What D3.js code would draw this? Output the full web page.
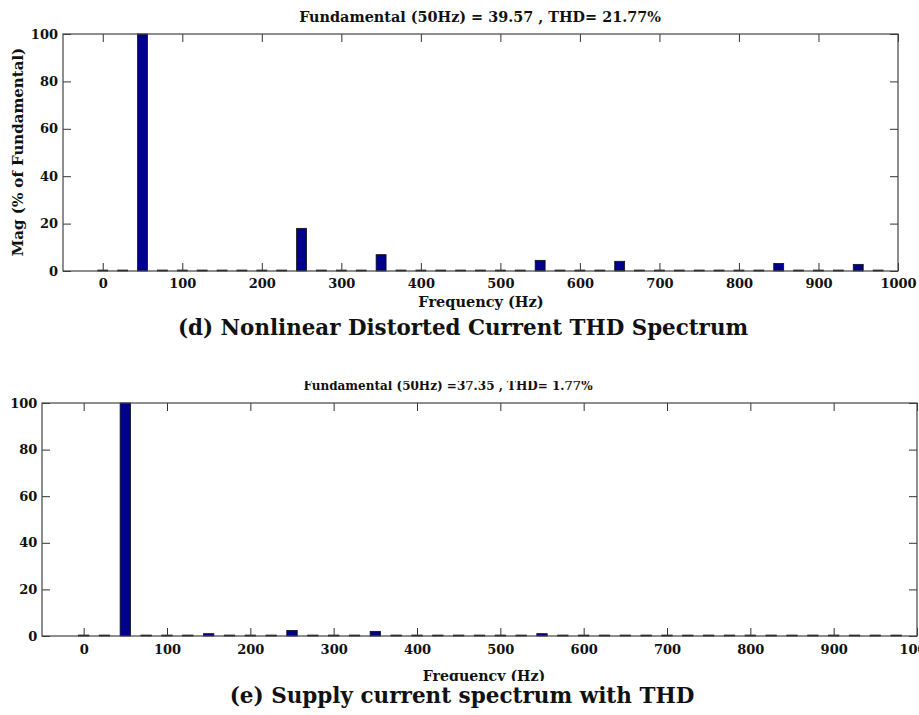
<!DOCTYPE html>
<html>
<head>
<meta charset="utf-8">
<script src="https://cdn.jsdelivr.net/npm/d3@7"></script>
<style>
  body { margin: 0; background: #fff; }
  svg { display: block; font-family: "DejaVu Serif", serif; font-weight: bold; }
</style>
</head>
<body>
<div id="chart-area"></div>
<script>
// harmonic frequencies (Hz), one bar each
const freqs = [0, 25, 50, 75, 100, 125, 150, 175, 200, 225,
	250, 275, 300, 325, 350, 375, 400, 425, 450, 475,
	500, 525, 550, 575, 600, 625, 650, 675, 700, 725,
	750, 775, 800, 825, 850, 875, 900, 925, 950, 975];

// (d) nonlinear distorted current, % of fundamental
const loadMag = [0.4, 0.4, 100, 0.4, 0.4, 0.4, 0.4, 0.4, 0.4, 0.4,
	18.0, 0.4, 0.4, 0.4, 6.9, 0.4, 0.4, 0.4, 0.4, 0.4,
	0.4, 0.4, 4.5, 0.4, 0.4, 0.4, 4.1, 0.4, 0.4, 0.4,
	0.4, 0.4, 0.4, 0.4, 3.2, 0.4, 0.4, 0.4, 2.8, 0.4];

// (e) supply current, % of fundamental
const supplyMag = [0.4, 0.4, 100, 0.4, 0.4, 0.4, 1.0, 0.4, 0.4, 0.4,
	2.4, 0.4, 0.4, 0.4, 2.0, 0.4, 0.4, 0.4, 0.4, 0.4,
	0.4, 0.4, 1.0, 0.4, 0.4, 0.4, 0.4, 0.4, 0.4, 0.4,
	0.4, 0.4, 0.4, 0.4, 0.4, 0.4, 0.4, 0.4, 0.4, 0.4];

const xTicks = [0, 100, 200, 300, 400, 500, 600, 700, 800, 900, 1000];
const yTicks = [0, 20, 40, 60, 80, 100];
const freqDomain = [-50, 1000];
const magDomain = [0, 100];

const svg = d3.select('#chart-area')
	.append('svg')
		.attr('width', 919)
		.attr('height', 715);

// clip for the cut-off texts of panel (e)
const defs = svg.append('defs');
defs.append('clipPath').attr('id', 'clip-e')
	.append('rect')
		.attr('x', 0).attr('y', 381)
		.attr('width', 919).attr('height', 300);

function drawSpectrum(opt) {
	const m = opt.box;
	const w = m.right - m.left;
	const h = m.bottom - m.top;

	const g = svg.append('g')
		.attr('transform', `translate(${m.left},${m.top})`);

	const xScale = d3.scaleLinear().domain(freqDomain).range([0, w]);
	const yScale = d3.scaleLinear().domain(magDomain).range([h, 0]);
	const barW = xScale(12.5) - xScale(0);

	// bars
	g.selectAll('rect.bar')
		.data(opt.values.map((v, i) => ({ f: freqs[i], v: v })))
		.enter().append('rect')
			.attr('class', 'bar')
			.attr('x', d => xScale(d.f) - barW / 2)
			.attr('y', d => yScale(d.v))
			.attr('width', barW)
			.attr('height', d => h - yScale(d.v))
			.attr('fill', '#00008b')
			.attr('stroke', '#111')
			.attr('stroke-width', 0.8);

	// axes, ticks pointing inward
	const styleAxis = sel => {
		sel.select('.domain').remove();
		sel.selectAll('line').attr('stroke', '#333');
		sel.selectAll('text')
			.attr('fill', '#111')
			.attr('font-family', '"DejaVu Serif", serif')
			.attr('font-weight', 'bold')
			.attr('font-size', 13);
	};

	g.append('g')
		.attr('transform', `translate(0,${h})`)
		.call(d3.axisBottom(xScale).tickValues(xTicks).tickFormat(d3.format('d'))
			.tickSizeInner(-8).tickSizeOuter(0).tickPadding(opt.xPad))
		.call(styleAxis);
	g.append('g')
		.call(d3.axisTop(xScale).tickValues(xTicks).tickSizeInner(-8).tickSizeOuter(0).tickFormat(''))
		.call(styleAxis);
	g.append('g')
		.call(d3.axisLeft(yScale).tickValues(yTicks).tickSizeInner(-8).tickSizeOuter(0).tickPadding(opt.yPad))
		.call(styleAxis);
	g.append('g')
		.attr('transform', `translate(${w},0)`)
		.call(d3.axisRight(yScale).tickValues(yTicks).tickSizeInner(-8).tickSizeOuter(0).tickFormat(''))
		.call(styleAxis);

	// frame
	g.append('rect')
		.attr('width', w)
		.attr('height', h)
		.attr('fill', 'none')
		.attr('stroke', '#444')
		.attr('stroke-width', 1.2);

	return g;
}

// (d)
const gd = drawSpectrum({
	box: { left: 63, top: 34, right: 898, bottom: 271 },
	values: loadMag,
	xPad: 7.5,
	yPad: 5
});

svg.append('text')
	.attr('x', 480)
	.attr('y', 22)
	.attr('text-anchor', 'middle')
	.attr('font-size', 14.4)
	.attr('fill', '#111')
	.text('Fundamental (50Hz) = 39.57 , THD= 21.77%');

svg.append('text')
	.attr('x', 481)
	.attr('y', 307)
	.attr('text-anchor', 'middle')
	.attr('font-size', 14.5)
	.attr('fill', '#111')
	.text('Frequency (Hz)');

svg.append('text')
	.attr('transform', 'translate(23,152) rotate(-90)')
	.attr('text-anchor', 'middle')
	.attr('font-size', 15)
	.attr('fill', '#111')
	.text('Mag (% of Fundamental)');

svg.append('text')
	.attr('x', 463)
	.attr('y', 335)
	.attr('text-anchor', 'middle')
	.attr('font-size', 21.4)
	.attr('fill', '#111')
	.text('(d) Nonlinear Distorted Current THD Spectrum');

// (e)
const ge = drawSpectrum({
	box: { left: 42, top: 403, right: 917, bottom: 636 },
	values: supplyMag,
	xPad: 8.5,
	yPad: 4.6
});

svg.append('text')
	.attr('clip-path', 'url(#clip-e)')
	.attr('x', 448)
	.attr('y', 390)
	.attr('text-anchor', 'middle')
	.attr('font-size', 12)
	.attr('fill', '#111')
	.text('Fundamental (50Hz) =37.35 , THD= 1.77%');

svg.append('text')
	.attr('clip-path', 'url(#clip-e)')
	.attr('x', 484)
	.attr('y', 680.5)
	.attr('text-anchor', 'middle')
	.attr('font-size', 14.2)
	.attr('fill', '#111')
	.text('Frequency (Hz)');

svg.append('text')
	.attr('x', 462)
	.attr('y', 703)
	.attr('text-anchor', 'middle')
	.attr('font-size', 21.5)
	.attr('fill', '#111')
	.text('(e) Supply current spectrum with THD');
</script>
</body>
</html>
